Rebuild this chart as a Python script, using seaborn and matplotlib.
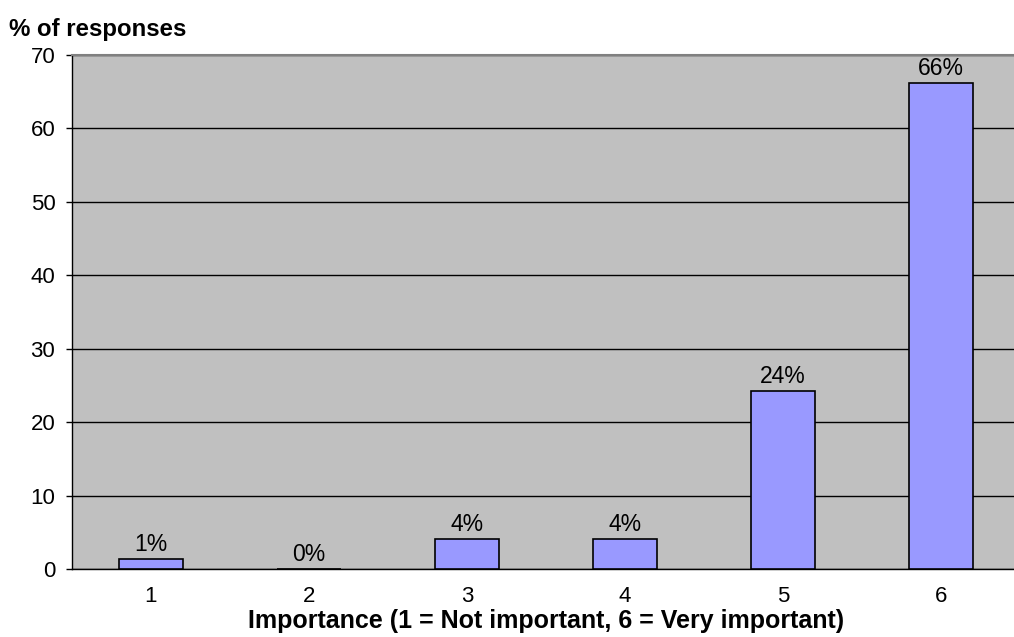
import matplotlib
matplotlib.use("Agg")
import matplotlib.pyplot as plt
import seaborn as sns
import pandas as pd

# Survey results: share of responses per importance rating
ratings = ["1", "2", "3", "4", "5", "6"]
percent = [1.4, 0.0, 4.1, 4.1, 24.3, 66.2]
y_ticks = [0, 10, 20, 30, 40, 50, 60, 70]

df = pd.DataFrame({"rating": ratings, "percent": percent})

sns.set_theme(style="white")
plt.rcParams["font.family"] = ["Liberation Sans", "DejaVu Sans"]
plt.rcParams.update({"text.color": "black", "axes.labelcolor": "black",
                     "xtick.color": "black", "ytick.color": "black"})

W, H = 1014, 637
fig = plt.figure(figsize=(W / 100, H / 100), dpi=100)
left, right, top, bottom = 72, 1020, 55, 569
ax = fig.add_axes([left / W, (H - bottom) / H, (right - left) / W, (bottom - top) / H])
ax.set_facecolor("#C0C0C0")

sns.barplot(data=df, x="rating", y="percent", ax=ax, color="#9999FF",
            saturation=1, width=0.405, edgecolor="black", linewidth=1.2, zorder=3)

ax.set_ylim(0, 70)
ax.set_xlim(-0.5, 5.5)
ax.set_yticks(y_ticks)
ax.set_yticklabels([str(t) for t in y_ticks], fontsize=16, color="black")
ax.yaxis.grid(True, color="black", linewidth=1)
ax.set_axisbelow(True)

# category boundary ticks on the x axis, labels centred under bars
ax.set_xticks([i for i in range(6)])
ax.set_xticklabels(ratings, fontsize=16, color="black")
ax.tick_params(axis="x", length=0, pad=12)
ax.set_xticks([i - 0.5 for i in range(7)], minor=True)
ax.tick_params(axis="x", which="minor", direction="out", length=5, width=1, color="black")
ax.tick_params(axis="y", direction="out", length=4, width=1, color="black", left=True, pad=8)

for side in ["left", "bottom"]:
    ax.spines[side].set_color("black")
    ax.spines[side].set_linewidth(1)
ax.spines["top"].set_color("#808080")
ax.spines["top"].set_linewidth(1.5)
ax.spines["right"].set_color("#808080")

for i, v in enumerate(percent):
    ax.annotate(f"{v:.0f}%", (i, v), xytext=(0, 2), textcoords="offset points",
                ha="center", va="bottom", fontsize=16.5, color="black", zorder=4)

ax.set_xlabel("Importance (1 = Not important, 6 = Very important)",
              fontsize=18, fontweight="bold", labelpad=0, color="black")
ax.xaxis.label.set_va("baseline")
ax.xaxis.set_label_coords((546 - left) / (right - left), -(628 - bottom) / (bottom - top))
ax.set_ylabel("")
fig.text(9 / W, 1 - 36 / H, "% of responses", fontsize=17.3, fontweight="bold",
         ha="left", va="baseline", color="black")

fig.savefig("out.png", dpi=100, facecolor="white")
